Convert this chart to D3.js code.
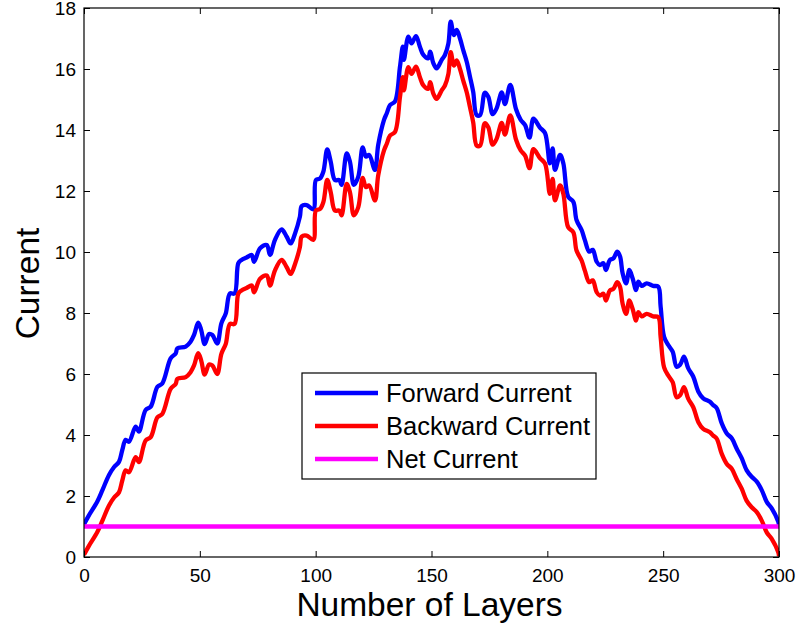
<!DOCTYPE html>
<html>
<head>
<meta charset="utf-8">
<script src="https://cdn.jsdelivr.net/npm/d3@7"></script>
<style>
  body { margin: 0; background: #fff; }
  svg { display: block; font-family: "Liberation Sans", Arial, sans-serif; }
</style>
</head>
<body>
<svg id="chart" width="798" height="626"></svg>
<script>
// Values
const layers = [0, 2, 5.7, 8, 10.8, 13, 15.1, 16.5, 18, 19.4, 22.3, 23.7, 26.6, 28.8, 31.7, 33.8, 37.4, 39.6, 40.3, 43.9,
  46, 47.5, 49.3, 50.6, 52.1, 54, 55.4, 57.5, 59.3, 61.2, 63, 65, 66.6, 68, 70.2, 72.4, 73.4, 76, 78.9, 80.3,
  82.4, 85.3, 87.5, 89.2, 91.1, 93.2, 94, 96.1, 99, 100.1, 101.9, 103.3, 105, 106.5, 108.3, 110.2, 111.2, 113.4, 114.8, 116.5,
  118.4, 120.3, 121.7, 123.1, 125.6, 127, 129.5, 130.7, 132.1, 134.2, 136.4, 137.6, 138.1, 140, 141.4, 143.3, 145, 146.5, 148.6, 149.4,
  150.8, 152.2, 154.4, 155.8, 157.3, 158.3, 159.7, 160.9, 162.3, 163.7, 165.2, 166.6, 168, 169.5, 171, 173, 174.5, 176.4, 178.1, 180.3,
  181.7, 184, 186.5, 188.5, 190.4, 192.3, 194, 196.8, 199, 201.1, 202.3, 203.3, 205.5, 206.9, 209, 211.2, 212.6, 214.8, 216.2, 218.1,
  219.6, 221.3, 222.7, 224.2, 225.3, 227, 228.5, 230.2, 231.4, 232.5, 234, 235.4, 236.8, 238.3, 239.3, 240.7, 242.9, 245.7, 247.9, 248.9,
  250.4, 252.2, 254.1, 255.8, 257.3, 259, 260.8, 263, 265.2, 267.3, 270.2, 271.6, 273.1, 275.3, 277.4, 279.6, 281.7, 283.9, 286, 288.2,
  290.4, 292.5, 294.7, 296.8, 299.7, 300];

const forwardCurrent = [1.07, 1.35, 1.81, 2.2, 2.69, 2.95, 3.12, 3.5, 3.84, 3.78, 4.27, 4.11, 4.82, 4.93, 5.58, 5.69, 6.51, 6.68, 6.84, 6.9,
  7.06, 7.28, 7.68, 7.44, 6.98, 7.31, 7.28, 7.0, 7.66, 7.99, 8.64, 8.64, 9.63, 9.74, 9.82, 9.9, 9.68, 10.12, 10.23, 9.9,
  10.39, 10.74, 10.5, 10.28, 10.61, 11.16, 11.51, 11.54, 11.4, 12.36, 12.41, 12.63, 13.36, 12.96, 12.36, 12.36, 12.2, 13.23, 12.96, 12.2,
  12.47, 13.43, 13.13, 13.18, 12.69, 13.51, 14.33, 14.55, 14.82, 14.93, 16.08, 16.73, 16.3, 17.06, 16.84, 17.08, 16.73, 16.46, 16.35, 16.57,
  16.19, 16.02, 16.3, 16.46, 16.84, 17.55, 17.11, 17.28, 17.0, 16.62, 16.24, 15.75, 15.25, 14.49, 14.49, 15.22, 15.09, 14.52, 14.71, 15.23,
  14.85, 15.48, 14.68, 14.33, 14.16, 13.75, 14.37, 14.08, 13.9, 12.91, 13.4, 12.69, 13.18, 12.91, 11.81, 11.65, 11.05, 10.72, 10.39, 10.01,
  10.07, 9.68, 9.57, 9.63, 9.41, 9.74, 9.79, 10.01, 9.85, 9.3, 8.97, 9.41, 9.14, 8.75, 9.03, 8.89, 8.97, 8.89, 8.86, 8.21,
  7.22, 6.95, 6.73, 6.24, 6.3, 6.57, 6.19, 5.91, 5.42, 5.2, 5.09, 4.98, 4.88, 4.38, 4.06, 3.89, 3.56, 3.24, 2.85, 2.63,
  2.47, 2.2, 1.81, 1.6, 1.15, 1.02];

const backwardCurrent = [0.07, 0.35, 0.81, 1.2, 1.69, 1.95, 2.12, 2.5, 2.84, 2.78, 3.27, 3.11, 3.82, 3.93, 4.58, 4.69, 5.51, 5.68, 5.84, 5.9,
  6.06, 6.28, 6.68, 6.44, 5.98, 6.31, 6.28, 6.0, 6.66, 6.99, 7.64, 7.64, 8.63, 8.74, 8.82, 8.9, 8.68, 9.12, 9.23, 8.9,
  9.39, 9.74, 9.5, 9.28, 9.61, 10.16, 10.51, 10.54, 10.4, 11.36, 11.41, 11.63, 12.36, 11.96, 11.36, 11.36, 11.2, 12.23, 11.96, 11.2,
  11.47, 12.43, 12.13, 12.18, 11.69, 12.51, 13.33, 13.55, 13.82, 13.93, 15.08, 15.73, 15.3, 16.06, 15.84, 16.08, 15.73, 15.46, 15.35, 15.57,
  15.19, 15.02, 15.3, 15.46, 15.84, 16.55, 16.11, 16.28, 16.0, 15.62, 15.24, 14.75, 14.25, 13.49, 13.49, 14.22, 14.09, 13.52, 13.71, 14.23,
  13.85, 14.48, 13.68, 13.33, 13.16, 12.75, 13.37, 13.08, 12.9, 11.91, 12.4, 11.69, 12.18, 11.91, 10.81, 10.65, 10.05, 9.72, 9.39, 9.01,
  9.07, 8.68, 8.57, 8.63, 8.41, 8.74, 8.79, 9.01, 8.85, 8.3, 7.97, 8.41, 8.14, 7.75, 8.03, 7.89, 7.97, 7.89, 7.86, 7.21,
  6.22, 5.95, 5.73, 5.24, 5.3, 5.57, 5.19, 4.91, 4.42, 4.2, 4.09, 3.98, 3.88, 3.38, 3.06, 2.89, 2.56, 2.24, 1.85, 1.63,
  1.47, 1.2, 0.81, 0.6, 0.15, 0.02];

const netLayers = [0, 300];
const netCurrent = [1, 1];

const xTicks = [0, 50, 100, 150, 200, 250, 300];
const yTicks = [0, 2, 4, 6, 8, 10, 12, 14, 16, 18];

const seriesNames = ["Forward Current", "Backward Current", "Net Current"];
const seriesColors = ["#0000ff", "#ff0000", "#ff00ff"];

// Layout
const width = 798, height = 626;
const margin = { top: 8, right: 19, bottom: 69, left: 84 };
const plotW = width - margin.left - margin.right;
const plotH = height - margin.top - margin.bottom;

const svg = d3.select("#chart");
const g = svg.append("g").attr("transform", `translate(${margin.left},${margin.top})`);

const x = d3.scaleLinear().domain([0, 300]).range([0, plotW]);
const y = d3.scaleLinear().domain([0, 18]).range([plotH, 0]);

// clip lines to the axes box
g.append("clipPath").attr("id", "plot-clip")
  .append("rect").attr("width", plotW).attr("height", plotH);

const line = d3.line()
  .x(d => x(d[0]))
  .y(d => y(d[1]))
  .curve(d3.curveCatmullRom.alpha(0.5));

const series = [
  d3.zip(layers, forwardCurrent),
  d3.zip(layers, backwardCurrent),
  d3.zip(netLayers, netCurrent)
];

const lines = g.append("g").attr("clip-path", "url(#plot-clip)");
series.forEach((s, i) => {
  lines.append("path")
    .datum(s)
    .attr("d", line)
    .attr("fill", "none")
    .attr("stroke", seriesColors[i])
    .attr("stroke-width", 4.3)
    .attr("stroke-linejoin", "round");
});

// Axes: ticks point inward, mirrored on top and right
const tickLen = 6;
const xAxis = d3.axisBottom(x).tickValues(xTicks).tickSizeInner(-tickLen).tickSizeOuter(0).tickPadding(12);
const yAxis = d3.axisLeft(y).tickValues(yTicks).tickSizeInner(-tickLen).tickSizeOuter(0).tickPadding(8);

const gx = g.append("g").attr("transform", `translate(0,${plotH})`).call(xAxis);
const gy = g.append("g").call(yAxis);
const gxTop = g.append("g").call(d3.axisTop(x).tickValues(xTicks).tickSizeInner(-tickLen).tickSizeOuter(0).tickFormat(""));
const gyRight = g.append("g").attr("transform", `translate(${plotW},0)`)
  .call(d3.axisRight(y).tickValues(yTicks).tickSizeInner(-tickLen).tickSizeOuter(0).tickFormat(""));

[gx, gy, gxTop, gyRight].forEach(a => {
  a.select(".domain").remove();
  a.selectAll("line").attr("stroke", "#000");
  a.selectAll("text").attr("fill", "#000").style("font-size", "19px");
});
gx.selectAll("text").attr("dy", "0.71em");

// Box
g.append("rect")
  .attr("width", plotW).attr("height", plotH)
  .attr("fill", "none").attr("stroke", "#000").attr("stroke-width", 1.2);

// Axis labels
svg.append("text")
  .attr("x", margin.left + plotW / 2 - 2)
  .attr("y", 616)
  .attr("text-anchor", "middle")
  .style("font-size", "33.5px")
  .text("Number of Layers");

svg.append("text")
  .attr("transform", `translate(39,${margin.top + plotH / 2 + 1}) rotate(-90)`)
  .attr("text-anchor", "middle")
  .style("font-size", "33.5px")
  .text("Current");

// Legend
const legend = svg.append("g").attr("transform", "translate(302,373)");
legend.append("rect")
  .attr("width", 294).attr("height", 106)
  .attr("fill", "#fff").attr("stroke", "#000").attr("stroke-width", 1.2);

seriesNames.forEach((name, i) => {
  const ly = 20 + i * 33;
  legend.append("line")
    .attr("x1", 13).attr("x2", 76)
    .attr("y1", ly).attr("y2", ly)
    .attr("stroke", seriesColors[i]).attr("stroke-width", 4.3);
  legend.append("text")
    .attr("x", 84).attr("y", ly)
    .attr("dy", "0.35em")
    .style("font-size", "25.5px")
    .text(name);
});
</script>
</body>
</html>
